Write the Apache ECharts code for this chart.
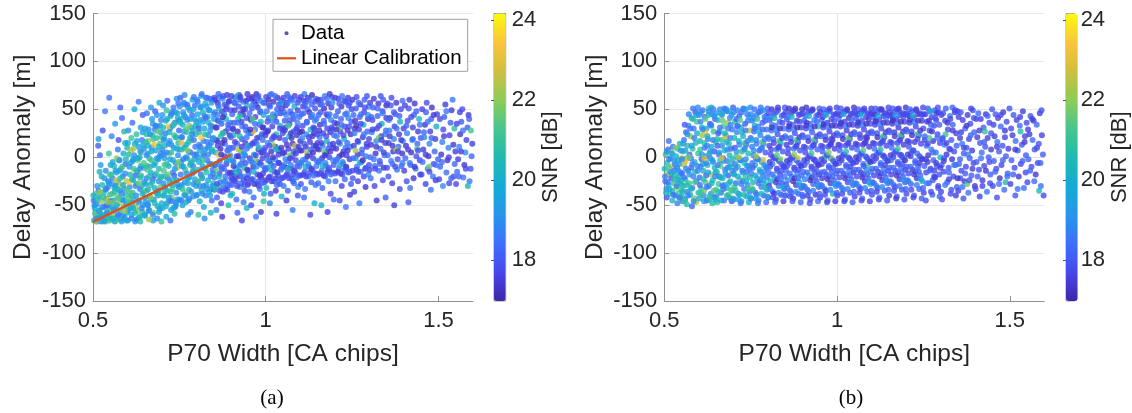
<!DOCTYPE html>
<html>
<head>
<meta charset="utf-8">
<script src="https://cdn.jsdelivr.net/npm/echarts@6/dist/echarts.min.js"></script>
<style>
  html, body { margin: 0; padding: 0; background: #ffffff; }
  #chart { width: 1132px; height: 413px; }
</style>
</head>
<body>
<div id="chart"></div>
<script>
// Axis ranges and tick labels
const xRange = [0.5, 1.6];
const yRange = [-150, 150];
const xTickValues = [0.5, 1, 1.5];
const snrRange = [16.97, 24.16];
const snrTickValues = [18, 20, 22, 24];

// Linear calibration line (panel a)
const calibX = [0.5, 0.9];
const calibY = [-67.5, 2.5];

// Panel (a): [P70 width, delay anomaly, SNR]
const pointsA = [
[.503,-66,19.6],[.507,-58,20.4],[.511,-49,18.9],[.514,-63,21.2],[.518,-41,19.8],[.521,-55,20.9],[.523,-67,18.6],[.526,-46,22.1],[.529,-60,19.3],[.531,-37,20.2],[.534,-52,18.4],[.536,-65,20.7],[.538,-43,19.1],[.541,-57,21.6],[.543,-31,18.8],[.545,-48,20.0],[.547,-62,19.5],[.549,-39,21.0],[.505,-53,19.9],[.512,-67,20.3],[.516,-35,18.2],[.527,-29,20.6],[.533,-22,19.0],[.539,-67,22.4],[.544,-25,18.7],[.548,-54,20.8],[.502,-45,18.5],[.509,-38,21.4],[.520,-61,19.7],[.540,-50,18.3],[.515,12,18.1],[.522,-8,19.4],[.528,28,17.9],[.535,48,18.6],[.546,4,21.1],[.519,-15,20.1],[.537,-14,18.9],[.532,-67,19.2],[.542,-44,23.0],[.508,-67,21.8],[.547,62,18.4],[.516,19,19.6],[.520,2,18.3],
[.551,-64,20.5],[.553,-51,19.2],[.555,-38,21.3],[.556,-22,18.7],[.558,-59,22.0],[.560,-45,19.6],[.561,-9,20.4],[.563,-67,19.0],[.565,-30,18.4],[.566,-54,20.9],[.568,-16,19.8],[.570,-41,21.7],[.571,-62,18.8],[.573,-26,20.2],[.575,-3,19.3],[.576,-48,22.6],[.578,-35,18.9],[.580,-57,20.6],[.581,-12,21.1],[.583,-67,19.4],[.585,-44,20.0],[.586,-20,18.6],[.588,4,19.9],[.589,-52,21.5],[.591,-33,19.1],[.592,-63,20.3],[.594,-7,18.3],[.595,-39,20.8],[.597,-25,22.2],[.598,-58,19.7],[.599,10,20.5],[.552,-46,18.1],[.557,-5,19.5],[.562,-32,20.0],[.567,-66,21.0],[.572,8,18.5],[.577,-14,19.2],[.582,-29,23.2],[.587,-61,18.7],[.593,15,19.8],[.596,-49,20.1],[.554,22,18.9],[.564,35,19.3],[.574,18,17.9],[.584,41,18.4],[.590,27,20.7],[.579,52,18.2],[.569,-1,21.9],
[.601,-66,20.2],[.603,-55,19.1],[.604,-43,21.4],[.606,-31,18.8],[.607,-18,20.6],[.609,-6,19.4],[.610,7,22.3],[.612,-60,19.9],[.613,-48,18.5],[.615,-37,20.9],[.616,-24,19.6],[.618,-12,21.2],[.619,2,18.9],[.621,14,20.1],[.622,-67,19.3],[.624,-52,22.0],[.625,-40,19.0],[.627,-28,20.5],[.628,-15,18.6],[.630,-3,21.6],[.631,11,19.7],[.633,-63,20.8],[.634,-45,19.2],[.636,-33,18.4],[.637,-21,20.3],[.639,-9,19.8],[.640,5,21.9],[.642,18,18.7],[.643,-57,20.4],[.645,-50,19.5],[.646,-36,21.1],[.648,-26,18.9],[.649,-11,20.0],[.605,-26,23.4],[.611,-40,20.7],[.617,-2,19.2],[.623,-19,18.3],[.629,-56,21.8],[.635,0,19.6],[.641,-30,20.2],[.647,9,18.8],[.602,28,19.0],[.614,36,18.4],[.626,24,20.9],[.638,31,19.5],[.644,44,18.1],[.620,50,19.9],[.632,58,18.6],[.608,-49,22.7],[.650,-42,19.3],[.626,-65,18.7],[.637,-67,20.5],[.611,20,21.0],[.644,26,19.1],[.616,-53,19.9],
[.651,-60,20.3],[.652,-47,19.2],[.654,-35,21.5],[.655,-22,18.8],[.657,-9,20.6],[.658,4,19.4],[.660,17,22.1],[.661,29,19.0],[.663,-55,20.0],[.664,-41,18.6],[.666,-29,21.0],[.667,-16,19.7],[.669,-3,20.9],[.670,10,18.9],[.672,23,20.4],[.673,35,19.3],[.675,-58,21.9],[.676,-44,19.1],[.678,-32,20.2],[.679,-19,18.5],[.681,-6,21.3],[.682,7,19.6],[.684,20,20.8],[.685,32,18.7],[.687,-51,19.9],[.688,-38,22.4],[.690,-25,19.0],[.691,-12,20.5],[.693,1,18.4],[.694,14,21.2],[.696,26,19.5],[.697,39,18.8],[.699,-48,20.1],[.653,-28,19.8],[.659,-50,18.3],[.665,-10,20.7],[.671,40,19.2],[.677,13,23.1],[.683,-37,20.0],[.689,-2,19.3],[.695,-31,21.6],[.656,46,18.5],[.668,52,19.4],[.680,48,18.2],[.692,57,20.0],[.674,-66,19.6],[.686,-64,18.9],[.698,-67,21.0],[.662,-65,22.2],[.700,8,18.6],[.655,24,20.6],[.667,-44,19.4],[.679,29,18.7],[.691,-57,19.8],[.663,-1,21.1],[.685,44,19.0],[.697,-20,20.3],[.673,-23,18.3],[.659,12,19.9],[.694,33,19.2],
[.701,-53,19.5],[.702,-40,20.8],[.704,-27,18.9],[.705,-14,21.4],[.707,-1,19.2],[.708,12,20.3],[.710,25,18.6],[.711,38,19.9],[.713,49,21.0],[.714,-48,19.0],[.716,-35,20.5],[.717,-22,18.4],[.719,-9,20.0],[.720,4,22.0],[.722,17,19.4],[.723,30,18.8],[.725,43,20.7],[.726,-55,19.3],[.728,-42,21.7],[.729,-29,19.6],[.731,-16,18.7],[.732,-3,20.2],[.734,10,19.1],[.735,23,21.2],[.737,36,18.5],[.738,47,19.8],[.740,-50,20.4],[.741,-37,18.9],[.743,-24,19.7],[.744,-11,22.5],[.746,2,19.0],[.747,15,20.6],[.749,28,18.3],[.703,54,19.1],[.709,-20,20.1],[.715,59,18.4],[.721,-45,19.7],[.727,5,20.9],[.733,52,18.6],[.739,-6,19.4],[.745,41,20.3],[.748,-31,18.8],[.712,-62,19.9],[.724,-66,18.5],[.736,-59,20.7],[.742,61,19.2],[.718,32,23.3],[.730,-33,21.1],[.706,20,19.6],[.750,8,18.7],[.713,-7,20.4],[.726,45,19.0],[.735,-19,18.2],[.744,-44,19.9],[.707,-35,20.6],[.719,14,18.9],[.731,33,19.5],[.741,21,21.4],[.704,3,19.3],[.747,56,18.5],[.722,-26,20.2],[.738,-52,18.8],
[.751,-44,19.4],[.752,-31,20.7],[.754,-18,18.6],[.755,-5,19.9],[.757,8,21.0],[.758,21,18.8],[.760,34,20.2],[.761,47,19.1],[.763,57,18.5],[.764,-39,20.4],[.766,-26,19.2],[.767,-13,21.3],[.769,0,18.7],[.770,13,19.6],[.772,26,20.9],[.773,39,18.9],[.775,52,19.7],[.776,-45,18.4],[.778,-34,20.1],[.779,-21,19.3],[.781,-8,20.6],[.782,5,18.5],[.784,18,22.2],[.785,31,19.0],[.787,44,18.3],[.788,60,19.8],[.790,-41,19.5],[.791,-28,18.8],[.793,-15,20.3],[.794,-2,19.1],[.796,11,18.6],[.797,24,20.8],[.799,37,19.4],[.753,62,18.2],[.759,-50,19.6],[.765,65,18.9],[.771,-37,21.5],[.777,6,19.0],[.783,-57,18.7],[.789,28,20.5],[.795,54,18.4],[.756,15,23.0],[.762,-10,20.0],[.768,42,18.6],[.774,-22,19.8],[.780,49,19.2],[.786,-4,21.1],[.792,63,18.5],[.798,-30,19.9],[.757,-29,18.9],[.763,27,19.3],[.769,-47,20.2],[.775,-60,18.8],[.781,20,20.0],[.787,-17,18.5],[.793,40,19.6],[.799,3,18.2],[.766,55,19.1],[.778,33,21.8],[.790,-9,18.7],[.754,40,20.3],[.772,-1,19.4],
[.801,-39,19.1],[.802,-26,18.4],[.804,-13,20.2],[.805,0,19.3],[.807,13,18.7],[.808,26,20.6],[.810,39,19.0],[.811,52,18.5],[.813,64,19.8],[.814,-35,20.4],[.816,-22,18.9],[.817,-9,19.5],[.819,4,21.2],[.820,17,18.6],[.822,30,19.7],[.823,43,18.3],[.825,56,20.0],[.826,-40,18.8],[.828,-29,19.6],[.829,-16,20.8],[.831,-3,18.5],[.832,10,19.2],[.834,23,18.9],[.835,36,20.3],[.837,49,19.4],[.838,61,18.2],[.840,-33,19.9],[.841,-20,18.6],[.843,-7,20.5],[.844,6,19.1],[.846,19,18.4],[.847,32,21.6],[.849,45,19.3],[.803,58,18.7],[.809,-46,20.1],[.815,66,18.4],[.821,-52,19.5],[.827,-11,22.3],[.833,3,18.8],[.839,28,19.0],[.845,60,18.6],[.848,-27,20.7],[.806,33,19.6],[.812,-18,18.3],[.818,47,20.2],[.824,8,19.0],[.830,62,18.5],[.836,-36,19.8],[.842,15,18.7],[.850,40,19.4],[.805,-60,21.0],[.823,-64,18.9],[.841,-58,20.4],[.813,21,23.5],[.829,53,19.2],[.846,-13,18.5],[.809,7,19.9],[.820,-30,18.7],[.832,42,19.3],[.844,-45,18.4],[.818,-3,20.9],[.836,12,18.8],
[.851,-34,17.9],[.852,-21,18.6],[.854,-8,17.3],[.855,5,20.1],[.857,18,18.0],[.858,31,17.6],[.860,44,18.8],[.861,57,17.4],[.863,66,18.3],[.864,-30,20.5],[.866,-17,17.7],[.867,-4,18.4],[.869,9,17.2],[.870,22,20.7],[.872,35,18.1],[.873,48,17.5],[.875,61,18.9],[.876,-36,17.8],[.878,-25,21.0],[.879,-12,18.2],[.881,1,17.6],[.882,14,18.7],[.884,27,17.3],[.885,40,20.2],[.887,53,18.0],[.888,65,17.5],[.890,-29,18.5],[.891,-16,17.8],[.893,-3,20.4],[.894,10,18.3],[.896,23,17.4],[.897,36,18.8],[.899,49,17.7],[.853,60,17.2],[.859,-42,18.1],[.865,51,20.3],[.871,-48,17.6],[.877,25,22.0],[.883,-20,18.4],[.889,7,17.9],[.895,59,18.6],[.898,-40,20.0],[.856,-14,21.5],[.862,38,17.5],[.868,-26,18.7],[.874,15,17.3],[.880,45,18.9],[.886,-7,17.6],[.892,30,18.2],[.900,-22,17.8],[.857,-55,18.8],[.874,-62,17.4],[.892,-50,20.6],[.864,3,23.2],[.881,55,17.9],[.866,63,18.5],[.884,-33,17.7],[.897,2,20.0],[.871,-10,18.0],[.859,17,17.5],
[.901,-29,18.0],[.902,-16,17.5],[.904,-3,18.8],[.905,10,17.7],[.907,23,20.3],[.908,36,18.1],[.910,49,17.4],[.911,62,18.5],[.913,-25,17.9],[.914,-12,20.1],[.916,1,17.6],[.917,14,18.3],[.919,27,17.2],[.920,40,20.6],[.922,53,18.0],[.923,65,17.7],[.925,-31,18.7],[.926,-20,17.4],[.928,-7,18.1],[.929,6,21.0],[.931,19,17.8],[.932,32,18.6],[.934,45,17.3],[.935,58,18.9],[.937,-24,17.6],[.938,-11,20.4],[.940,2,18.2],[.941,15,17.5],[.943,28,18.8],[.944,41,17.9],[.946,54,20.0],[.947,66,17.4],[.949,-18,18.3],[.903,-38,20.2],[.909,57,17.8],[.915,-44,18.4],[.921,8,22.4],[.927,46,17.6],[.933,-2,18.7],[.939,-35,17.7],[.945,21,18.5],[.948,-29,17.8],[.906,29,18.3],[.912,-20,17.4],[.918,64,20.1],[.924,-15,18.0],[.930,37,17.5],[.936,-47,18.6],[.942,-6,17.9],[.950,12,20.8],[.918,-58,18.2],[.931,-66,17.6],[.945,-53,20.3],[.907,-9,17.3],[.926,60,18.0],[.940,50,17.7],
[.951,-27,17.7],[.952,-14,18.4],[.954,-1,17.5],[.955,12,18.9],[.957,25,17.8],[.958,38,20.2],[.960,51,18.1],[.961,63,17.4],[.963,-23,18.6],[.964,-10,17.3],[.966,3,20.0],[.967,16,17.9],[.969,29,18.5],[.970,42,17.6],[.972,55,18.3],[.973,66,17.2],[.975,-28,20.4],[.976,-18,17.7],[.978,-5,18.0],[.979,8,17.5],[.981,21,20.7],[.982,34,18.2],[.984,47,17.8],[.985,59,18.7],[.987,-21,17.4],[.988,-8,18.8],[.990,5,17.6],[.991,18,18.4],[.993,31,17.9],[.994,44,20.1],[.996,57,17.5],[.997,-26,18.2],[.999,-13,17.7],[.953,-36,18.9],[.959,61,17.6],[.965,-42,18.3],[.971,-3,21.8],[.977,52,17.4],[.983,-33,18.6],[.989,24,17.8],[.995,-38,20.0],[.998,10,18.1],[.956,40,17.5],[.962,-6,18.7],[.968,58,17.3],[.974,14,18.4],[.980,-30,17.9],[.986,37,20.3],[.992,-17,17.6],[1.0,26,18.0],[.958,-50,17.8],[.972,-62,18.5],[.986,-57,17.4],[.994,-46,21.0],[.963,27,22.9],[.979,64,18.2],[.991,-1,17.6],
[1.001,-24,17.6],[1.003,-11,18.3],[1.004,2,17.4],[1.006,15,18.8],[1.007,28,17.7],[1.009,41,18.2],[1.010,54,17.5],[1.012,65,18.6],[1.013,-20,17.9],[1.015,-7,20.1],[1.016,6,17.3],[1.018,19,18.0],[1.019,32,17.6],[1.021,45,18.7],[1.022,58,17.4],[1.024,-25,18.4],[1.025,-15,17.8],[1.027,-2,18.9],[1.028,11,17.5],[1.030,24,20.3],[1.031,37,17.9],[1.033,50,18.1],[1.034,62,17.3],[1.036,-19,18.5],[1.037,-6,17.7],[1.039,7,18.2],[1.040,20,17.4],[1.042,33,20.0],[1.043,46,17.6],[1.045,59,18.3],[1.046,-22,17.9],[1.048,-9,18.8],[1.049,4,17.5],[1.002,-32,20.5],[1.008,60,17.2],[1.014,-38,18.0],[1.020,13,22.1],[1.026,42,17.7],[1.032,-29,18.4],[1.038,55,17.8],[1.044,-13,18.6],[1.050,29,17.4],[1.005,37,18.1],[1.011,-4,17.6],[1.017,66,18.4],[1.023,22,17.9],[1.029,-35,17.3],[1.035,9,20.6],[1.041,-28,18.0],[1.047,51,17.5],[1.012,-48,18.8],[1.031,-59,17.6],[1.046,-41,20.2],
[1.051,-21,17.8],[1.053,-8,18.5],[1.054,5,17.4],[1.056,18,18.1],[1.057,31,17.6],[1.059,44,18.9],[1.060,57,17.3],[1.062,66,18.2],[1.063,-17,17.7],[1.065,-4,18.4],[1.066,9,17.5],[1.068,22,20.2],[1.069,35,17.9],[1.071,48,18.3],[1.072,61,17.4],[1.074,-22,18.7],[1.075,-12,17.6],[1.077,1,18.0],[1.078,14,17.3],[1.080,27,18.6],[1.081,40,17.8],[1.083,53,20.0],[1.084,64,17.5],[1.086,-16,18.1],[1.087,-3,17.7],[1.089,10,18.5],[1.090,23,17.4],[1.092,36,18.8],[1.093,49,17.6],[1.095,60,18.2],[1.096,-19,17.9],[1.098,-6,20.4],[1.099,7,17.5],[1.052,-30,18.6],[1.058,54,17.4],[1.064,-35,18.2],[1.070,2,21.7],[1.076,45,17.8],[1.082,-27,18.4],[1.088,29,17.7],[1.094,-31,18.9],[1.100,17,17.3],[1.055,38,18.0],[1.061,-11,17.6],[1.067,63,18.5],[1.073,25,17.4],[1.079,-25,18.1],[1.085,12,22.6],[1.091,-9,17.8],[1.097,42,18.3],[1.060,-45,17.5],[1.078,-55,18.7],[1.093,-40,17.9],
[1.101,-19,17.6],[1.103,-6,18.3],[1.104,7,17.4],[1.106,20,18.8],[1.107,33,17.7],[1.109,46,18.1],[1.110,59,17.5],[1.112,66,18.6],[1.113,-15,17.9],[1.115,-2,18.4],[1.116,11,17.3],[1.118,24,18.9],[1.119,37,17.6],[1.121,50,18.2],[1.122,62,17.4],[1.124,-20,18.7],[1.125,-10,17.8],[1.127,3,18.0],[1.128,16,17.5],[1.130,29,20.3],[1.131,42,17.7],[1.133,55,18.3],[1.134,65,17.2],[1.136,-14,18.5],[1.137,-1,17.6],[1.139,12,18.1],[1.140,25,17.4],[1.142,38,18.8],[1.143,51,17.9],[1.145,61,18.4],[1.146,-17,17.5],[1.148,-4,18.7],[1.149,9,17.3],[1.102,-28,18.0],[1.108,53,17.6],[1.114,-33,18.5],[1.120,5,22.0],[1.126,47,17.4],[1.132,-26,18.2],[1.138,31,17.8],[1.144,-29,18.6],[1.150,15,17.5],[1.111,-42,18.3],[1.129,-60,17.7],[1.141,-48,20.1],[1.117,58,18.0],[1.135,22,17.4],[1.147,40,18.6],
[1.151,-18,17.7],[1.153,-5,18.2],[1.154,8,17.5],[1.156,21,18.6],[1.157,34,17.3],[1.159,47,18.0],[1.160,60,17.8],[1.162,-14,18.5],[1.163,-1,17.4],[1.165,12,18.9],[1.166,25,17.6],[1.168,38,18.3],[1.169,51,17.2],[1.171,64,18.7],[1.172,-20,17.9],[1.174,-9,18.4],[1.175,4,17.5],[1.177,17,20.1],[1.178,30,17.7],[1.180,43,18.1],[1.181,56,17.4],[1.183,-13,18.6],[1.184,0,17.8],[1.186,13,18.2],[1.187,26,17.3],[1.189,39,18.8],[1.190,52,17.6],[1.192,63,18.0],[1.193,-16,17.5],[1.195,-3,18.7],[1.196,10,17.4],[1.198,23,18.3],[1.199,36,17.9],[1.152,-27,18.4],[1.158,55,17.6],[1.164,-32,18.1],[1.170,6,21.5],[1.176,45,17.5],[1.182,-25,18.8],[1.188,-38,17.7],[1.194,29,18.2],[1.161,-50,20.0],[1.179,-57,17.6],[1.197,-44,18.3],[1.185,66,17.4],
[1.201,-17,17.8],[1.203,-4,18.3],[1.204,9,17.5],[1.206,22,18.7],[1.207,35,17.4],[1.209,48,18.1],[1.210,61,17.7],[1.212,-12,18.5],[1.213,1,17.3],[1.215,14,18.9],[1.216,27,17.6],[1.218,40,18.2],[1.219,53,17.4],[1.221,64,18.6],[1.222,-18,17.9],[1.224,-7,18.4],[1.225,6,17.5],[1.227,19,20.0],[1.228,32,17.7],[1.230,45,18.1],[1.231,58,17.3],[1.233,-11,18.7],[1.234,2,17.6],[1.236,15,18.3],[1.237,28,17.4],[1.239,41,18.8],[1.240,54,17.9],[1.242,-15,18.0],[1.243,-2,17.5],[1.245,11,18.6],[1.246,24,17.3],[1.248,37,18.2],[1.249,50,17.7],[1.202,-25,18.4],[1.211,30,21.9],[1.220,-30,17.6],[1.229,-23,18.3],[1.238,62,17.5],[1.247,-28,18.0],[1.214,-45,17.8],[1.232,-52,18.5],[1.244,-39,17.4],
[1.251,-14,17.7],[1.253,-1,18.4],[1.255,12,17.5],[1.257,25,18.8],[1.259,38,17.3],[1.261,51,18.1],[1.263,63,17.8],[1.264,-10,18.5],[1.266,3,17.4],[1.268,16,18.9],[1.270,29,17.6],[1.272,42,18.2],[1.274,55,17.4],[1.275,-15,18.6],[1.277,-5,17.9],[1.279,8,18.3],[1.281,21,17.5],[1.283,34,20.0],[1.285,47,17.7],[1.286,60,18.1],[1.288,-12,17.3],[1.290,1,18.7],[1.292,14,17.6],[1.294,27,18.3],[1.296,40,17.4],[1.298,53,18.8],[1.299,-8,17.9],[1.252,-22,18.0],[1.260,7,22.3],[1.267,-25,17.6],[1.276,45,18.4],[1.284,-20,17.7],[1.293,64,18.0],[1.256,-36,17.5],[1.271,-48,18.6],[1.289,-31,17.4],[1.297,-18,18.9],[1.262,33,17.3],
[1.301,-13,17.6],[1.303,0,18.3],[1.305,13,17.4],[1.307,26,18.7],[1.309,39,17.8],[1.311,52,18.1],[1.313,61,17.5],[1.316,-9,18.4],[1.318,4,17.3],[1.320,17,18.8],[1.322,30,17.6],[1.324,43,18.2],[1.326,56,17.4],[1.328,-14,18.6],[1.330,-4,17.9],[1.332,9,18.3],[1.334,22,17.5],[1.336,35,20.2],[1.338,48,17.7],[1.340,60,18.0],[1.342,-11,17.3],[1.344,2,18.7],[1.346,15,17.6],[1.348,28,18.3],[1.349,41,17.4],[1.304,-22,18.5],[1.315,-30,17.7],[1.327,20,21.6],[1.339,-24,17.8],[1.347,-42,18.2],[1.321,-45,17.5],[1.333,64,18.0],
[1.351,-11,17.7],[1.353,2,18.4],[1.356,15,17.5],[1.358,28,18.7],[1.360,41,17.3],[1.362,54,18.1],[1.364,62,17.8],[1.367,-7,18.5],[1.369,6,17.4],[1.371,19,18.9],[1.373,32,17.6],[1.375,45,18.2],[1.378,57,17.4],[1.380,-13,18.6],[1.382,-2,17.9],[1.384,11,18.3],[1.386,24,17.5],[1.389,37,20.0],[1.391,50,17.7],[1.393,-9,18.1],[1.395,4,17.3],[1.397,17,18.7],[1.399,30,17.6],[1.355,-20,18.0],[1.366,-27,17.6],[1.377,8,22.1],[1.388,-33,17.8],[1.396,59,18.4],[1.372,-50,17.5],
[1.401,-14,17.6],[1.404,-1,18.3],[1.406,12,17.4],[1.409,25,18.7],[1.411,38,17.8],[1.414,51,18.1],[1.416,60,17.5],[1.419,-8,18.4],[1.421,5,17.3],[1.424,18,18.8],[1.426,31,17.6],[1.429,44,18.2],[1.431,56,17.4],[1.434,-12,18.6],[1.436,1,17.9],[1.439,14,18.3],[1.441,27,17.5],[1.444,40,20.3],[1.446,-3,17.7],[1.449,20,18.0],[1.408,-25,17.9],[1.418,-32,18.5],[1.428,-22,17.4],[1.438,9,21.4],[1.447,-18,17.8],[1.413,-47,18.1],
[1.451,-18,17.7],[1.454,-5,18.4],[1.456,8,17.5],[1.459,21,18.8],[1.461,34,17.3],[1.464,47,18.1],[1.466,57,17.8],[1.469,-12,18.5],[1.471,1,17.4],[1.474,14,18.9],[1.476,27,17.6],[1.479,40,18.2],[1.481,52,17.4],[1.484,-20,18.6],[1.486,-7,17.9],[1.489,6,18.3],[1.491,19,17.5],[1.494,32,20.0],[1.496,45,17.7],[1.499,-2,18.1],[1.463,-28,17.6],[1.478,-34,18.4],[1.492,-24,17.5],[1.473,-10,21.8],
[1.502,-23,17.6],[1.505,-10,18.3],[1.508,3,17.4],[1.511,16,18.7],[1.514,29,17.8],[1.517,42,18.1],[1.520,55,17.5],[1.523,-16,18.4],[1.526,-3,17.3],[1.529,10,18.8],[1.532,23,17.6],[1.535,36,18.2],[1.538,49,17.4],[1.541,60,18.6],[1.544,-20,17.9],[1.547,-7,18.3],[1.549,6,17.5],[1.513,-30,18.9],[1.531,-27,17.7],[1.546,30,20.8],
[1.551,-28,17.7],[1.554,-15,18.4],[1.557,-2,17.5],[1.560,11,18.8],[1.563,24,17.3],[1.566,37,18.1],[1.569,50,17.8],[1.572,-21,18.5],[1.575,-8,17.4],[1.578,5,18.9],[1.581,18,17.6],[1.584,31,18.2],[1.587,44,17.4],[1.590,-25,18.6],[1.593,-12,17.9],[1.596,1,18.3],[1.598,14,17.5],[1.585,-30,20.4],[1.594,28,21.2],[1.562,47,17.6],
[.501,-40,20.1],[.504,-50,19.3],[.506,-59,21.5],[.510,-64,18.9],[.513,-44,20.6],[.517,-56,19.5],[.520,-36,22.0],[.524,-62,20.2],[.527,-52,18.7],[.530,-42,21.1],[.533,-66,19.8],[.536,-34,20.5],[.540,-58,19.0],[.543,-47,21.9],[.546,-27,19.4],[.549,-66,20.8],[.512,-30,19.1],[.525,-20,20.3],[.538,-33,18.6],[.548,-18,21.3],
[.551,-8,19.7],[.553,-18,20.9],[.555,-28,19.1],[.557,-47,21.8],[.559,-64,20.0],[.561,-55,18.8],[.563,-36,20.6],[.565,-14,19.5],[.567,-24,22.5],[.569,-50,19.9],[.571,-33,20.3],[.573,-60,18.6],[.575,-43,21.2],[.577,-3,19.2],[.579,-22,20.7],[.581,-65,19.6],[.583,-38,18.9],[.585,-10,21.0],[.587,-29,20.1],[.589,-45,19.3],[.591,-56,22.1],[.593,-17,19.0],[.595,-2,20.4],[.597,-66,19.5],[.599,-34,21.4],
[.601,15,19.8],[.603,3,20.7],[.605,-10,19.2],[.607,-37,21.3],[.609,-53,20.1],[.611,-64,18.7],[.613,-23,20.5],[.615,-4,19.4],[.617,9,22.4],[.619,-44,19.9],[.621,-58,20.3],[.623,-30,18.9],[.625,-14,21.1],[.627,17,19.6],[.629,-1,20.0],[.631,-47,19.1],[.633,-27,21.7],[.635,-62,20.4],[.637,6,19.3],[.639,-19,20.8],[.641,-53,18.8],[.643,-38,20.2],[.645,13,19.7],[.647,-6,21.4],[.649,-61,19.5],[.606,-47,20.9],[.636,-12,19.0],
[.651,30,19.5],[.653,16,20.8],[.655,2,19.1],[.657,-13,21.4],[.659,-34,20.0],[.661,-56,18.9],[.663,-20,20.6],[.665,24,19.3],[.667,-42,22.0],[.669,6,19.8],[.671,-26,20.3],[.673,-60,19.0],[.675,19,21.1],[.677,-8,19.6],[.679,-48,20.5],[.681,33,18.8],[.683,-17,20.9],[.685,-1,19.4],[.687,27,21.6],[.689,-35,19.2],[.691,11,20.2],[.693,-54,19.7],[.695,-22,20.7],[.697,4,18.9],[.699,21,21.0],[.658,-49,19.4],[.688,-40,20.1],
[.701,44,19.2],[.703,31,20.5],[.705,18,19.0],[.707,-8,21.2],[.709,-31,19.6],[.711,-51,20.3],[.713,5,18.8],[.715,40,19.9],[.717,-18,21.5],[.719,-42,19.3],[.721,26,20.1],[.723,-2,19.5],[.725,-36,20.8],[.727,13,19.1],[.729,47,18.7],[.731,-24,20.4],[.733,-53,19.8],[.735,35,21.0],[.737,-12,19.2],[.739,21,20.6],[.741,-47,18.9],[.743,9,20.0],[.745,-29,19.4],[.747,-5,21.8],[.749,38,19.0],[.706,-40,20.2],[.728,-46,18.6],[.744,46,19.7],
[.751,53,19.0],[.753,36,20.3],[.755,21,18.8],[.757,-9,19.6],[.759,-33,20.9],[.761,-2,18.6],[.763,44,19.4],[.765,10,20.1],[.767,-40,19.2],[.769,29,21.3],[.771,-17,19.0],[.773,55,18.5],[.775,-27,19.8],[.777,16,20.5],[.779,-43,18.9],[.781,40,19.3],[.783,-6,20.2],[.785,-36,19.1],[.787,24,18.7],[.789,-14,20.6],[.791,50,19.5],[.793,3,18.8],[.795,-23,19.9],[.797,33,20.4],[.799,-40,19.0],[.756,-45,18.7],[.774,7,22.0],[.792,18,18.6],
[.801,60,18.8],[.803,45,19.6],[.805,30,18.4],[.807,-5,20.1],[.809,-30,19.0],[.811,11,18.6],[.813,53,19.3],[.815,-20,20.4],[.817,-38,18.9],[.819,37,19.5],[.821,2,18.7],[.823,-12,19.9],[.825,24,20.6],[.827,62,18.5],[.829,-33,19.2],[.831,16,18.8],[.833,-24,20.0],[.835,49,19.4],[.837,-7,18.6],[.839,-40,19.7],[.841,33,18.9],[.843,57,19.3],[.845,8,20.3],[.847,-17,18.7],[.849,20,19.6],[.804,-25,21.2],[.826,41,18.4],[.846,-30,19.1],
[.851,62,17.8],[.853,47,18.6],[.855,31,17.5],[.857,-7,19.2],[.859,-28,18.0],[.861,12,17.6],[.863,54,18.4],[.865,-20,20.2],[.867,-35,17.7],[.869,38,18.9],[.871,3,17.4],[.873,-12,18.3],[.875,25,20.0],[.877,64,17.9],[.879,-31,18.5],[.881,18,17.3],[.883,-25,18.8],[.885,50,17.6],[.887,-3,19.5],[.889,-34,17.8],[.891,34,18.2],[.893,58,17.4],[.895,8,18.7],[.897,-17,17.5],[.899,21,18.1],[.854,-33,20.6],[.876,42,17.2],[.896,-28,18.4],
[.901,64,17.6],[.903,45,18.3],[.905,30,17.4],[.907,-5,18.9],[.909,-24,17.8],[.911,16,17.5],[.913,56,18.6],[.915,-16,20.1],[.917,-30,17.7],[.919,36,18.4],[.921,1,17.3],[.923,-9,18.8],[.925,22,20.4],[.927,63,17.6],[.929,-27,18.2],[.931,11,17.5],[.933,-20,18.7],[.935,50,17.4],[.937,4,19.3],[.939,-29,17.9],[.941,32,18.1],[.943,59,17.6],[.945,9,18.5],[.947,-13,17.3],[.949,26,18.8],[.904,-23,17.7],[.926,43,20.8],[.946,-22,17.5],
[.951,61,17.5],[.953,46,18.4],[.955,29,17.3],[.957,-4,18.7],[.959,-23,17.9],[.961,14,17.6],[.963,55,18.5],[.965,-15,20.0],[.967,-28,17.4],[.969,35,18.3],[.971,2,17.7],[.973,-10,18.9],[.975,20,17.5],[.977,62,18.1],[.979,-25,17.8],[.981,10,20.5],[.983,-19,17.4],[.985,48,18.6],[.987,5,17.6],[.989,-27,18.2],[.991,31,17.3],[.993,57,18.8],[.995,7,17.7],[.997,-12,18.4],[.999,23,17.5],[.962,40,21.4],[.984,-6,17.9],
[1.001,63,17.7],[1.003,48,18.5],[1.005,27,17.4],[1.007,-3,18.8],[1.009,-21,17.6],[1.011,12,17.9],[1.013,53,18.3],[1.015,-13,20.2],[1.017,-25,17.5],[1.019,38,18.6],[1.021,0,17.3],[1.023,-9,18.1],[1.025,21,17.8],[1.027,64,18.4],[1.029,-22,17.6],[1.031,8,20.0],[1.033,-16,17.4],[1.035,46,18.7],[1.037,3,17.5],[1.039,-24,18.2],[1.041,30,17.7],[1.043,56,18.9],[1.045,10,17.3],[1.047,-11,18.5],[1.049,25,17.8],[1.018,42,21.0],[1.038,-6,17.6],
[1.051,62,17.6],[1.053,47,18.3],[1.055,28,17.5],[1.057,-2,18.9],[1.059,-19,17.7],[1.061,13,17.4],[1.063,56,18.6],[1.065,-12,20.3],[1.067,-22,17.8],[1.069,39,18.2],[1.071,-1,17.5],[1.073,-8,18.7],[1.075,20,17.3],[1.077,59,18.4],[1.079,-18,17.9],[1.081,6,18.1],[1.083,-14,17.6],[1.085,44,18.8],[1.087,4,17.4],[1.089,-21,18.5],[1.091,31,17.7],[1.093,57,18.0],[1.095,11,17.5],[1.097,-10,18.6],[1.099,26,17.3],[1.066,33,21.2],
[1.101,63,17.5],[1.103,45,18.4],[1.105,27,17.3],[1.107,-3,18.8],[1.109,-18,17.6],[1.111,14,17.9],[1.113,54,18.2],[1.115,-10,20.0],[1.117,-20,17.7],[1.119,36,18.5],[1.121,1,17.4],[1.123,-7,18.9],[1.125,21,17.6],[1.127,60,18.3],[1.129,-16,17.8],[1.131,8,18.1],[1.133,-12,17.5],[1.135,44,18.7],[1.137,5,17.3],[1.139,-19,18.4],[1.141,30,17.7],[1.143,58,18.0],[1.145,12,17.4],[1.147,-9,18.6],[1.149,24,17.8],
[1.151,60,17.6],[1.153,44,18.3],[1.155,28,17.4],[1.157,-4,18.7],[1.159,-17,17.8],[1.161,15,17.5],[1.163,55,18.5],[1.165,-9,20.1],[1.167,-19,17.6],[1.169,35,18.2],[1.171,2,17.3],[1.173,-6,18.8],[1.175,22,17.7],[1.177,61,18.4],[1.179,-15,17.5],[1.181,9,18.0],[1.183,-11,17.9],[1.185,45,18.6],[1.187,6,17.4],[1.189,-18,18.3],[1.191,31,17.6],[1.193,57,18.9],[1.195,14,17.5],[1.197,-8,18.1],
[1.201,62,17.7],[1.203,43,18.4],[1.205,29,17.5],[1.207,-2,18.6],[1.209,-15,17.4],[1.211,16,17.8],[1.213,56,18.2],[1.215,-8,20.0],[1.217,-17,17.6],[1.219,34,18.5],[1.221,3,17.3],[1.223,-5,18.7],[1.225,23,17.6],[1.227,59,18.1],[1.229,-13,17.9],[1.231,10,18.4],[1.233,-10,17.5],[1.235,46,18.8],[1.237,7,17.4],[1.239,-16,18.2],[1.241,32,17.7],[1.243,57,18.0],
[1.251,60,17.5],[1.254,44,18.3],[1.257,30,17.4],[1.260,-1,18.7],[1.263,-13,17.7],[1.266,17,17.5],[1.269,57,18.4],[1.272,-6,20.2],[1.275,35,17.6],[1.278,4,18.1],[1.281,-3,17.3],[1.284,24,18.6],[1.287,52,17.8],[1.290,-11,18.2],[1.293,11,17.5],[1.296,44,18.9],[1.299,19,17.6],[1.268,-15,17.9],
[1.302,57,17.6],[1.306,42,18.2],[1.309,29,17.5],[1.313,-2,18.6],[1.317,-12,17.7],[1.320,11,17.4],[1.324,51,18.3],[1.328,33,17.8],[1.331,-7,18.1],[1.335,18,17.5],[1.339,46,18.7],[1.342,5,17.6],[1.346,24,18.4],[1.349,54,17.3],
[1.352,56,17.7],[1.356,39,18.3],[1.359,22,17.5],[1.363,-4,18.6],[1.367,12,17.4],[1.371,47,18.1],[1.375,-10,17.8],[1.379,30,18.4],[1.383,6,17.6],[1.387,43,18.2],[1.392,18,17.5],[1.396,-6,18.7],
[1.403,54,17.6],[1.407,33,18.2],[1.412,8,17.5],[1.417,-6,18.6],[1.421,42,17.7],[1.426,19,18.3],[1.431,-10,17.4],[1.436,48,18.1],[1.441,7,17.8],[1.446,34,18.4],
[1.453,50,17.6],[1.458,26,18.3],[1.463,3,17.5],[1.469,37,18.6],[1.474,-15,17.7],[1.480,20,18.2],[1.486,44,17.4],[1.493,-8,18.5],
[1.504,40,17.7],[1.510,-5,18.3],[1.516,22,17.5],[1.523,48,18.6],[1.530,0,17.6],[1.537,-22,18.2],[1.543,13,17.4],
[1.553,35,17.6],[1.559,-20,18.2],[1.565,6,17.5],[1.571,28,18.4],[1.579,-12,17.7],[1.589,40,18.1]
];

// Panel (b): [P70 width, delay anomaly, SNR]
const pointsB = [
[.501,-12,20.3],[.503,-25,18.4],[.504,3,21.1],[.506,-33,18.8],[.508,-6,20.7],[.509,-18,22.4],[.511,8,18.2],[.512,-29,20.0],[.514,-2,18.8],[.516,-38,20.9],[.517,-15,18.6],[.519,5,21.7],[.520,-22,18.0],[.522,-9,23.1],[.524,-35,20.4],[.525,11,18.5],[.527,-27,21.3],[.529,-4,18.9],[.530,-19,20.6],[.532,-40,18.3],[.534,1,20.1],[.535,-31,22.0],[.537,-11,18.7],[.539,9,20.8],[.540,-24,18.7],[.542,-37,21.2],[.544,-7,18.9],[.545,14,20.5],[.547,-16,18.1],[.549,-28,20.2],[.550,-1,22.8],[.507,-42,18.0],[.523,-45,20.3],[.538,-48,18.8],[.546,-43,21.5],[.513,17,18.4],[.528,-14,18.5],[.543,-20,20.0],
[.551,-41,20.1],[.552,-17,18.3],[.554,6,21.0],[.555,-30,20.6],[.557,18,18.5],[.558,-8,22.3],[.560,-44,18.8],[.561,-23,20.4],[.563,26,18.1],[.564,-1,21.4],[.566,-36,18.6],[.567,12,20.8],[.569,-14,18.9],[.570,33,18.9],[.572,-27,21.1],[.573,3,18.4],[.575,-39,20.3],[.576,22,22.1],[.578,-11,18.2],[.579,41,20.0],[.581,-32,18.7],[.582,9,20.9],[.584,-20,18.8],[.585,30,18.5],[.587,-43,21.6],[.588,-5,20.2],[.590,47,18.0],[.591,15,20.6],[.593,-25,18.4],[.594,37,21.3],[.596,-9,18.8],[.597,52,18.9],[.599,-37,20.5],[.553,-46,18.9],[.565,-49,20.7],[.580,-51,18.3],[.592,-47,22.5],[.559,34,18.0],[.571,45,18.7],[.583,51,18.6],[.595,25,20.1],[.562,-4,23.0],[.577,-1,18.5],[.589,-15,20.3],[.598,4,21.0],
[.601,-43,20.2],[.602,-21,18.4],[.604,8,21.1],[.605,37,18.8],[.607,-33,20.6],[.608,-2,18.1],[.610,23,22.0],[.611,49,18.5],[.613,-14,20.3],[.614,-40,18.9],[.616,15,20.8],[.617,42,18.3],[.619,-26,21.4],[.620,1,18.7],[.622,30,20.1],[.623,-45,18.0],[.625,-8,20.5],[.626,19,18.8],[.628,51,21.2],[.629,-30,18.6],[.631,4,20.4],[.632,35,18.2],[.634,-18,22.6],[.635,-38,18.9],[.637,11,20.0],[.638,45,18.4],[.640,-24,20.7],[.641,-5,18.7],[.643,27,21.0],[.644,-42,18.5],[.646,-11,20.2],[.647,40,18.1],[.649,16,20.9],[.603,-29,18.3],[.609,31,20.0],[.615,-35,21.7],[.621,-19,18.2],[.627,44,20.3],[.633,-1,18.8],[.639,-48,20.6],[.645,6,18.0],[.650,-34,21.3],[.606,47,18.9],[.612,-7,20.1],[.618,26,23.3],[.624,12,18.7],[.630,-44,20.4],[.636,33,18.8],[.642,50,18.6],[.648,-16,20.0],
[.651,-41,18.9],[.652,-15,20.6],[.654,12,18.2],[.655,39,20.4],[.657,-28,21.1],[.658,3,18.5],[.660,27,20.0],[.661,50,18.9],[.663,-9,21.6],[.664,-37,18.3],[.666,18,20.7],[.667,44,18.8],[.669,-22,20.2],[.670,-1,18.0],[.672,32,21.3],[.673,-45,18.6],[.675,7,20.1],[.676,-13,18.8],[.678,23,20.9],[.679,48,18.4],[.681,-32,20.3],[.682,-4,18.7],[.684,36,22.2],[.685,-19,18.1],[.687,14,20.5],[.688,-42,18.8],[.690,41,18.9],[.691,-25,20.6],[.693,9,18.3],[.694,-7,21.0],[.696,29,18.6],[.697,-35,20.0],[.699,52,18.2],[.653,-47,20.8],[.659,-20,18.4],[.665,46,20.2],[.671,-33,18.7],[.677,21,23.0],[.683,-11,18.9],[.689,2,20.4],[.695,-46,18.1],[.700,-17,20.7],[.656,25,18.0],[.662,-3,20.3],[.668,-30,18.5],[.674,51,18.6],[.680,16,20.1],[.686,-39,21.4],[.692,34,18.7],[.698,-2,20.2],
[.701,-44,18.5],[.702,-18,20.2],[.704,10,18.0],[.705,37,20.6],[.707,-27,18.3],[.708,1,21.2],[.710,26,18.8],[.711,49,18.9],[.713,-10,20.4],[.714,-38,18.6],[.716,17,20.0],[.717,43,18.2],[.719,-23,21.5],[.720,-3,18.4],[.722,31,20.1],[.723,-46,18.8],[.725,6,20.7],[.726,-14,18.1],[.728,22,20.3],[.729,50,18.7],[.731,-33,18.6],[.732,-6,20.5],[.734,35,18.0],[.735,-20,21.0],[.737,13,18.3],[.738,-41,20.2],[.740,45,18.7],[.741,-29,18.9],[.743,4,20.6],[.744,-9,18.2],[.746,28,22.4],[.747,-36,18.5],[.749,52,18.9],[.703,-31,20.8],[.709,40,18.1],[.715,-1,20.4],[.721,-48,18.6],[.727,-25,18.8],[.733,15,20.9],[.739,-15,18.4],[.745,-47,20.0],[.750,20,18.2],[.706,-12,18.9],[.712,33,18.6],[.718,-39,20.3],[.724,47,18.4],[.730,8,21.1],[.736,-2,18.9],[.742,38,18.7],[.748,-21,20.5],
[.751,-43,18.2],[.752,-17,18.9],[.754,11,18.7],[.755,38,18.6],[.757,-26,20.3],[.758,2,18.9],[.760,27,18.4],[.761,50,18.5],[.763,-8,20.1],[.764,-37,18.0],[.766,18,18.7],[.767,44,18.8],[.769,-22,20.5],[.770,-2,18.3],[.772,32,18.6],[.773,-45,18.8],[.775,7,18.1],[.776,-13,20.6],[.778,23,18.9],[.779,48,18.5],[.781,-31,18.7],[.782,-5,20.0],[.784,36,18.2],[.785,-19,18.5],[.787,14,18.9],[.788,-40,18.1],[.790,42,18.6],[.791,-28,20.4],[.793,5,18.0],[.794,-10,18.7],[.796,29,18.6],[.797,-34,18.9],[.799,51,18.3],[.753,-32,22.1],[.759,41,18.8],[.765,-1,18.5],[.771,-48,18.6],[.777,-24,18.7],[.783,16,21.4],[.789,-15,18.9],[.795,-47,18.4],[.800,21,18.7],[.756,-11,18.0],[.762,33,20.2],[.768,-39,18.7],[.774,47,18.3],[.780,9,18.5],[.786,-3,22.9],[.792,38,18.1],[.798,-21,18.8],
[.801,-42,17.9],[.802,-16,18.5],[.804,12,17.6],[.805,39,18.2],[.807,-25,20.0],[.808,3,17.8],[.810,28,18.4],[.811,50,17.4],[.813,-7,18.7],[.814,-36,17.7],[.816,19,18.1],[.817,45,17.5],[.819,-21,20.3],[.820,-1,17.9],[.822,33,18.3],[.823,-44,17.6],[.825,8,18.8],[.826,-12,17.4],[.828,24,18.0],[.829,49,17.7],[.831,-30,18.6],[.832,-4,17.5],[.834,37,18.2],[.835,-18,17.8],[.837,15,20.1],[.838,-39,17.6],[.840,43,18.4],[.841,-27,17.9],[.843,6,18.0],[.844,-9,17.4],[.846,30,18.7],[.847,-33,17.8],[.849,52,18.1],[.803,-30,17.5],[.809,41,18.6],[.815,0,17.7],[.821,-47,18.3],[.827,-23,17.6],[.833,17,21.0],[.839,-14,18.0],[.845,-46,17.5],[.850,22,18.4],[.806,-10,17.8],[.812,34,18.9],[.818,-38,17.4],[.824,47,18.2],[.830,10,17.6],[.836,-2,21.7],[.842,36,17.9],[.848,-20,18.5],
[.851,-40,17.7],[.852,-14,18.3],[.854,13,17.5],[.855,40,18.0],[.857,-24,18.8],[.858,4,17.6],[.860,29,18.2],[.861,51,17.3],[.863,-6,18.5],[.864,-35,17.8],[.866,20,18.1],[.867,46,17.4],[.869,-20,18.9],[.870,0,17.7],[.872,34,18.3],[.873,-43,17.5],[.875,9,18.6],[.876,-11,17.3],[.878,25,17.9],[.879,48,18.4],[.881,-29,17.6],[.882,-3,18.0],[.884,38,17.4],[.885,-17,18.7],[.887,16,17.8],[.888,-38,18.2],[.890,44,17.5],[.891,-26,20.2],[.893,7,17.9],[.894,-8,18.4],[.896,31,17.6],[.897,-32,18.0],[.899,50,17.3],[.853,-29,17.9],[.859,42,18.5],[.865,-2,17.6],[.871,-46,18.1],[.877,-22,17.4],[.883,18,20.8],[.889,-13,17.7],[.895,-47,18.3],[.900,23,17.5],[.856,-9,18.0],[.862,35,17.7],[.868,-37,18.4],[.874,49,17.6],[.880,11,18.2],[.886,-1,22.5],[.892,37,17.8],[.898,-19,18.3],
[.901,-41,17.8],[.902,-15,18.4],[.904,11,17.5],[.905,38,18.1],[.907,-23,18.7],[.908,5,17.7],[.910,30,18.0],[.911,52,17.4],[.913,-5,18.6],[.914,-34,17.9],[.916,21,18.2],[.917,47,17.5],[.919,-19,20.0],[.920,1,17.6],[.922,35,18.4],[.923,-44,17.7],[.925,10,18.5],[.926,-10,17.4],[.928,26,18.1],[.929,49,17.8],[.931,-28,18.3],[.932,-2,17.5],[.934,39,18.8],[.935,-16,17.7],[.937,17,18.0],[.938,-39,17.4],[.940,43,18.5],[.941,-25,17.9],[.943,8,18.2],[.944,-7,17.6],[.946,32,20.4],[.947,-31,17.8],[.949,51,18.1],[.903,-30,17.6],[.909,43,18.3],[.915,-1,17.8],[.921,-48,18.0],[.927,-21,17.5],[.933,18,21.3],[.939,-12,17.9],[.945,-46,18.4],[.950,24,17.7],[.906,-8,18.2],[.912,36,17.5],[.918,-36,18.6],[.924,48,17.7],[.930,12,18.0],[.936,-3,17.6],[.942,37,18.3],[.948,-18,17.4],
[.951,-42,17.6],[.952,-16,18.2],[.954,12,17.8],[.955,39,18.5],[.957,-22,17.5],[.958,6,18.0],[.960,31,17.7],[.961,50,18.3],[.963,-4,17.4],[.964,-33,18.6],[.966,22,17.9],[.967,46,18.1],[.969,-18,17.6],[.970,2,18.8],[.972,36,17.5],[.973,-45,18.2],[.975,11,17.7],[.976,-9,18.4],[.978,27,17.6],[.979,48,18.0],[.981,-27,17.4],[.982,-1,18.5],[.984,40,17.8],[.985,-15,18.2],[.987,18,17.5],[.988,-38,20.1],[.990,44,17.7],[.991,-24,18.3],[.993,9,17.6],[.994,-6,18.0],[.996,33,17.4],[.997,-30,18.7],[.999,52,17.8],[.953,-29,18.0],[.959,42,17.5],[.965,0,21.2],[.971,-47,17.7],[.977,-20,18.4],[.983,19,17.6],[.989,-11,18.1],[.995,-46,17.5],[1.0,25,18.3],[.956,-7,17.9],[.962,35,18.4],[.968,-35,17.6],[.974,49,18.0],[.980,13,17.5],[.986,-2,22.0],[.992,38,17.9],[.998,-17,18.2],
[1.001,-40,17.7],[1.002,-14,18.1],[1.004,13,17.5],[1.005,40,18.4],[1.007,-21,17.8],[1.008,7,18.2],[1.010,32,17.6],[1.011,51,18.0],[1.013,-3,17.4],[1.014,-32,18.5],[1.016,23,17.7],[1.017,47,18.3],[1.019,-17,17.5],[1.020,3,18.9],[1.022,37,17.6],[1.023,-44,18.1],[1.025,12,17.8],[1.026,-8,18.4],[1.028,28,17.5],[1.029,49,18.0],[1.031,-26,17.7],[1.032,0,18.3],[1.034,41,17.4],[1.035,-14,18.6],[1.037,19,17.8],[1.038,-37,18.1],[1.040,45,17.5],[1.041,-23,18.2],[1.043,10,17.7],[1.044,-5,20.3],[1.046,34,17.6],[1.047,-29,18.0],[1.049,52,17.4],[1.003,-28,18.3],[1.009,44,17.6],[1.015,1,18.0],[1.021,-46,17.8],[1.027,-19,18.4],[1.033,20,21.5],[1.039,-10,17.5],[1.045,-47,18.1],[1.050,26,17.7],[1.006,-6,18.2],[1.012,36,17.5],[1.018,-34,18.6],[1.024,48,17.8],[1.030,14,18.0],[1.036,-1,17.6],[1.042,39,18.3],[1.048,-16,17.4],
[1.051,-41,17.6],[1.052,-13,18.2],[1.054,14,17.4],[1.055,41,18.0],[1.057,-20,17.8],[1.058,8,18.5],[1.060,33,17.5],[1.061,50,18.1],[1.063,-2,17.7],[1.064,-31,18.3],[1.066,24,17.6],[1.067,46,18.0],[1.069,-16,17.4],[1.070,4,18.7],[1.072,38,17.8],[1.073,-43,18.2],[1.075,13,17.5],[1.076,-7,18.4],[1.078,29,17.7],[1.079,48,18.0],[1.081,-25,17.5],[1.082,1,18.3],[1.084,42,17.6],[1.085,-13,18.8],[1.087,20,17.4],[1.088,-36,18.1],[1.090,46,17.7],[1.091,-22,18.2],[1.093,11,17.5],[1.094,-4,18.0],[1.096,35,17.8],[1.097,-28,20.5],[1.099,51,17.6],[1.053,-27,18.1],[1.059,45,17.5],[1.065,2,18.3],[1.071,-45,17.8],[1.077,-18,18.0],[1.083,21,17.4],[1.089,-9,21.0],[1.095,-46,17.7],[1.100,27,18.2],[1.056,-5,17.6],[1.062,37,18.4],[1.068,-33,17.8],[1.074,49,18.0],[1.080,15,17.5],[1.086,0,18.1],[1.092,40,17.4],[1.098,-15,18.6],
[1.101,-39,17.8],[1.102,-12,18.3],[1.104,15,17.5],[1.105,42,18.1],[1.107,-19,17.7],[1.108,9,18.4],[1.110,34,17.6],[1.111,51,18.0],[1.113,-1,17.4],[1.114,-30,18.6],[1.116,25,17.8],[1.117,47,18.2],[1.119,-15,17.5],[1.120,5,18.0],[1.122,39,17.7],[1.123,-42,18.3],[1.125,14,17.4],[1.126,-6,18.5],[1.128,30,17.8],[1.129,49,18.0],[1.131,-24,17.6],[1.132,2,18.2],[1.134,43,17.5],[1.135,-12,18.7],[1.137,21,17.9],[1.138,-35,18.1],[1.140,46,17.4],[1.141,-21,18.3],[1.143,12,17.7],[1.144,-3,20.0],[1.146,36,17.5],[1.147,-27,18.2],[1.149,52,17.8],[1.103,-26,18.0],[1.109,45,17.5],[1.115,3,18.4],[1.121,-44,17.7],[1.127,-17,18.1],[1.133,22,20.9],[1.139,-8,17.6],[1.145,-45,18.2],[1.150,28,17.5],[1.106,-4,18.0],[1.112,38,17.6],[1.118,-32,18.3],[1.124,50,17.7],[1.130,16,18.0],[1.136,1,17.4],[1.142,41,18.5],[1.148,-14,17.8],
[1.151,-40,17.5],[1.152,-11,18.2],[1.154,16,17.7],[1.155,43,18.0],[1.157,-18,17.6],[1.158,10,18.4],[1.160,35,17.5],[1.161,51,18.1],[1.163,0,17.8],[1.164,-29,18.3],[1.166,26,17.4],[1.167,47,18.0],[1.169,-14,17.7],[1.170,6,18.6],[1.172,40,17.5],[1.173,-41,18.2],[1.175,15,17.8],[1.176,-5,18.0],[1.178,31,17.4],[1.179,48,18.5],[1.181,-23,17.6],[1.182,3,18.1],[1.184,44,17.7],[1.185,-11,18.4],[1.187,22,17.5],[1.188,-34,18.0],[1.190,46,17.8],[1.191,-20,18.2],[1.193,13,17.5],[1.194,-2,20.2],[1.196,37,17.7],[1.197,-26,18.0],[1.199,52,17.4],[1.153,-25,18.3],[1.159,44,17.6],[1.165,4,18.0],[1.171,-43,17.5],[1.177,-16,18.2],[1.183,23,21.2],[1.189,-7,17.8],[1.195,-44,18.1],[1.200,29,17.6],[1.156,-3,18.4],[1.162,39,17.5],[1.168,-31,18.0],[1.174,50,17.7],[1.180,17,18.3],[1.186,2,17.6],[1.192,42,18.1],[1.198,-13,17.5],
[1.201,-38,17.7],[1.202,-10,18.1],[1.204,17,17.5],[1.205,44,18.3],[1.207,-17,17.8],[1.208,11,18.0],[1.210,36,17.6],[1.211,50,18.4],[1.213,1,17.5],[1.214,-28,18.2],[1.216,27,17.7],[1.217,48,18.0],[1.219,-13,17.4],[1.220,7,18.5],[1.222,41,17.8],[1.223,-40,18.1],[1.225,16,17.5],[1.226,-4,18.3],[1.228,32,17.7],[1.229,49,18.0],[1.231,-22,17.4],[1.232,4,18.6],[1.234,45,17.6],[1.235,-10,18.0],[1.237,23,17.8],[1.238,-33,18.2],[1.240,46,17.5],[1.241,-19,18.4],[1.243,14,17.7],[1.244,-1,18.0],[1.246,38,17.5],[1.247,-25,20.1],[1.249,52,17.8],[1.203,-24,18.0],[1.209,43,17.6],[1.215,5,18.3],[1.221,-42,17.7],[1.227,-15,18.0],[1.233,24,21.0],[1.239,-6,17.5],[1.245,-43,18.1],[1.250,30,17.8],
[1.251,-37,17.6],[1.253,-9,18.2],[1.254,18,17.5],[1.256,45,18.0],[1.258,-16,17.8],[1.259,12,18.4],[1.261,37,17.6],[1.263,51,18.1],[1.264,2,17.4],[1.266,-27,18.3],[1.268,28,17.7],[1.269,48,18.0],[1.271,-12,17.5],[1.273,8,18.6],[1.274,42,17.8],[1.276,-39,18.1],[1.278,17,17.4],[1.279,-3,18.2],[1.281,33,17.7],[1.283,49,18.0],[1.284,-21,17.5],[1.286,5,18.4],[1.288,46,17.6],[1.289,-9,18.1],[1.291,24,17.8],[1.293,-32,18.3],[1.294,47,17.5],[1.296,-18,18.0],[1.298,15,17.7],[1.299,0,20.4],[1.257,-45,17.9],[1.267,20,21.3],[1.277,-24,18.0],[1.287,39,17.6],[1.297,-41,18.2],[1.262,-5,17.5],[1.272,34,18.3],[1.282,-14,17.7],[1.292,52,18.0],
[1.301,-36,17.7],[1.303,-8,18.3],[1.305,19,17.5],[1.307,46,18.0],[1.309,-15,17.8],[1.311,13,18.4],[1.313,38,17.6],[1.315,51,18.2],[1.317,3,17.4],[1.319,-26,18.3],[1.321,29,17.7],[1.323,-11,18.0],[1.325,9,17.5],[1.327,43,18.6],[1.329,-38,17.8],[1.331,18,18.1],[1.333,-2,17.4],[1.335,34,18.2],[1.337,-20,17.7],[1.339,6,18.0],[1.341,47,17.5],[1.343,-8,18.4],[1.345,25,17.6],[1.347,-31,18.1],[1.349,48,17.8],[1.304,-44,18.0],[1.314,24,21.1],[1.324,-23,17.6],[1.334,52,18.3],[1.344,-40,17.5],[1.310,-1,18.0],[1.328,40,17.7],
[1.351,-35,17.6],[1.353,-7,18.2],[1.356,20,17.5],[1.358,47,18.0],[1.360,-14,17.8],[1.362,14,18.5],[1.364,39,17.6],[1.367,4,18.1],[1.369,-25,17.4],[1.371,30,18.3],[1.373,-10,17.7],[1.375,10,18.0],[1.378,44,17.5],[1.380,-37,18.4],[1.382,19,17.6],[1.384,-1,18.1],[1.386,35,17.8],[1.389,-19,18.2],[1.391,7,17.5],[1.393,49,18.0],[1.395,-6,17.7],[1.397,26,18.3],[1.399,-30,17.4],[1.366,-43,18.0],[1.377,-28,21.5],[1.388,51,17.7],[1.357,-22,17.9],
[1.401,-33,17.7],[1.404,-5,18.1],[1.406,21,17.5],[1.409,46,18.3],[1.411,-13,17.8],[1.414,15,18.0],[1.416,40,17.6],[1.419,5,18.4],[1.421,-24,17.5],[1.424,31,18.2],[1.426,-9,17.7],[1.429,11,18.0],[1.431,45,17.4],[1.434,-36,18.5],[1.436,20,17.6],[1.439,0,18.1],[1.441,36,17.8],[1.444,-18,18.2],[1.446,8,17.5],[1.449,50,18.0],[1.413,-41,17.6],[1.428,27,20.9],[1.443,-27,17.8],
[1.451,-30,17.7],[1.454,-4,18.2],[1.456,22,17.5],[1.459,45,18.0],[1.461,-12,17.8],[1.464,16,18.4],[1.466,41,17.6],[1.469,6,18.1],[1.471,-22,17.4],[1.474,32,18.3],[1.476,-8,17.7],[1.479,12,18.0],[1.481,47,17.5],[1.484,-34,18.4],[1.486,21,17.6],[1.489,1,18.1],[1.491,37,17.8],[1.494,-17,18.2],[1.496,9,17.5],[1.499,51,18.0],[1.463,-42,17.9],[1.488,-26,20.7],
[1.502,-28,17.6],[1.505,-3,18.2],[1.508,23,17.5],[1.511,44,18.0],[1.514,-11,17.8],[1.517,17,18.4],[1.520,39,17.6],[1.523,7,18.1],[1.526,-20,17.4],[1.529,33,18.3],[1.532,-7,17.7],[1.535,13,18.0],[1.538,48,17.5],[1.541,-32,18.4],[1.544,22,17.6],[1.547,2,18.1],[1.549,36,17.8],[1.516,-40,18.0],[1.531,27,20.6],[1.546,-16,17.7],
[1.551,-26,17.7],[1.554,-2,18.2],[1.557,24,17.5],[1.560,43,18.0],[1.563,-10,17.8],[1.566,18,18.4],[1.569,38,17.6],[1.572,8,18.1],[1.575,-18,17.4],[1.578,34,18.3],[1.581,-6,17.7],[1.584,14,18.0],[1.587,46,17.5],[1.590,-30,18.4],[1.593,23,17.6],[1.596,3,18.1],[1.598,-40,17.8],[1.585,-35,20.5],[1.592,49,17.9],
[.502,-20,18.7],[.505,-37,20.4],[.507,6,19.1],[.510,-26,18.5],[.513,-11,21.3],[.515,-33,19.6],[.518,-1,18.9],[.521,-17,20.2],[.523,4,19.4],[.526,-39,18.6],[.528,-23,20.8],[.531,-8,19.0],[.533,10,21.9],[.536,-30,18.8],[.538,-3,20.0],[.541,-14,19.3],[.543,-42,18.7],[.546,-25,20.5],[.548,7,19.2],[.550,-34,21.0],
[.551,-2,18.8],[.553,-36,20.3],[.555,14,19.2],[.557,-21,18.6],[.559,-45,21.0],[.561,7,19.5],[.563,-12,18.9],[.565,-29,20.6],[.567,24,19.3],[.569,-40,18.7],[.571,0,21.8],[.573,-18,19.1],[.575,30,18.5],[.577,-33,20.2],[.579,12,19.4],[.581,-7,18.8],[.583,40,20.7],[.585,-46,19.0],[.587,20,18.6],[.589,-26,21.2],[.593,44,19.6],[.597,-14,18.9],
[.601,44,19.0],[.603,17,20.4],[.605,-10,18.7],[.607,-38,21.1],[.609,3,19.4],[.611,29,18.8],[.613,-23,20.6],[.615,-46,19.2],[.617,10,18.6],[.619,40,21.5],[.621,-6,19.0],[.623,-31,18.5],[.625,22,20.2],[.627,-16,19.6],[.629,48,18.9],[.631,-41,20.9],[.633,6,19.1],[.635,34,18.7],[.637,-27,20.3],[.639,-3,19.5],[.641,18,18.6],[.643,-35,21.4],[.645,43,19.2],[.647,-20,18.8],[.649,-44,20.1],[.616,-1,22.6],[.636,52,19.3],
[.651,46,19.2],[.653,19,20.5],[.655,-8,18.8],[.657,-36,20.9],[.659,5,19.3],[.661,31,18.6],[.663,-21,20.2],[.665,-45,19.5],[.667,12,18.9],[.669,38,21.6],[.671,-4,19.1],[.673,-29,18.7],[.675,25,20.4],[.677,-17,19.4],[.679,50,18.8],[.681,-40,20.7],[.683,8,19.0],[.685,30,18.6],[.687,-27,20.1],[.689,-10,19.6],[.691,20,18.5],[.693,-34,21.3],[.695,44,19.2],[.697,-14,18.9],[.699,-43,20.0],[.666,-1,22.8],[.686,48,19.3],
[.701,47,19.0],[.703,20,20.3],[.705,-7,18.7],[.707,-35,20.8],[.709,6,19.2],[.711,32,18.5],[.713,-20,20.0],[.715,-44,19.4],[.717,13,18.8],[.719,39,21.3],[.721,-3,19.0],[.723,-28,18.6],[.725,26,20.2],[.727,-16,19.3],[.729,51,18.7],[.731,-39,20.6],[.733,9,18.9],[.735,28,18.5],[.737,-25,20.0],[.739,-9,19.5],[.741,17,18.6],[.743,-33,21.0],[.745,42,19.1],[.747,-12,18.8],[.749,-42,19.9],[.716,0,22.4],[.736,50,19.2],
[.751,45,18.8],[.753,18,19.9],[.755,-6,18.5],[.757,-34,20.4],[.759,7,19.0],[.761,30,18.4],[.763,-19,19.7],[.765,-43,19.1],[.767,14,18.6],[.769,40,20.9],[.771,-2,18.8],[.773,-27,18.4],[.775,27,19.8],[.777,-15,19.2],[.779,52,18.5],[.781,-38,20.2],[.783,10,18.7],[.785,29,18.3],[.787,-24,19.6],[.789,-8,19.3],[.791,19,18.5],[.793,-32,20.6],[.795,43,18.9],[.797,-11,18.6],[.799,-41,19.5],[.766,1,22.2],[.786,49,19.0],
[.801,46,17.8],[.803,19,18.6],[.805,-5,17.5],[.807,-33,18.9],[.809,8,17.7],[.811,31,17.4],[.813,-18,18.4],[.815,-42,17.9],[.817,15,17.6],[.819,41,20.4],[.821,-1,17.8],[.823,-26,17.4],[.825,28,18.7],[.827,-14,18.1],[.829,52,17.5],[.831,-37,18.9],[.833,11,17.7],[.835,30,17.3],[.837,-23,18.5],[.839,-7,18.2],[.841,20,17.5],[.843,-31,19.6],[.845,44,17.9],[.847,-10,17.6],[.849,-40,18.4],[.826,2,21.5],
[.851,47,17.6],[.853,20,18.5],[.855,-4,17.4],[.857,-32,18.8],[.859,9,17.8],[.861,32,17.3],[.863,-17,18.3],[.865,-41,17.7],[.867,16,17.5],[.869,42,20.1],[.871,0,17.9],[.873,-25,17.3],[.875,29,18.6],[.877,-13,18.0],[.879,51,17.4],[.881,-36,18.8],[.883,12,17.6],[.885,31,17.2],[.887,-22,18.4],[.889,-6,18.1],[.891,21,17.4],[.893,-30,19.4],[.895,45,17.8],[.897,-9,17.5],[.899,-39,18.3],[.876,3,22.1],
[.901,46,17.7],[.903,21,18.4],[.905,-3,17.5],[.907,-31,18.7],[.909,10,17.9],[.911,33,17.4],[.913,-16,18.2],[.915,-40,17.6],[.917,17,17.4],[.919,43,19.9],[.921,1,17.8],[.923,-24,17.2],[.925,30,18.5],[.927,-12,18.1],[.929,50,17.5],[.931,-35,18.7],[.933,13,17.7],[.935,32,17.3],[.937,-21,18.3],[.939,-5,18.0],[.941,22,17.5],[.943,-29,19.2],[.945,44,17.9],[.947,-8,17.4],[.949,-38,18.2],[.926,4,21.0],
[.951,47,17.5],[.953,22,18.3],[.955,-2,17.6],[.957,-30,18.6],[.959,11,17.8],[.961,34,17.3],[.963,-15,18.1],[.965,-39,17.7],[.967,18,17.4],[.969,44,19.7],[.971,2,17.9],[.973,-23,17.3],[.975,31,18.4],[.977,-11,18.0],[.979,51,17.6],[.981,-34,18.8],[.983,14,17.5],[.985,33,17.2],[.987,-20,18.2],[.989,-4,18.0],[.991,23,17.4],[.993,-28,19.0],[.995,45,17.8],[.997,-7,17.5],[.999,-37,18.1],[.976,5,21.8],
[1.001,46,17.6],[1.003,23,18.2],[1.005,-1,17.5],[1.007,-29,18.7],[1.009,12,17.7],[1.011,35,17.4],[1.013,-14,18.3],[1.015,-38,17.8],[1.017,19,17.3],[1.019,45,19.5],[1.021,3,17.9],[1.023,-22,17.4],[1.025,32,18.5],[1.027,-10,18.1],[1.029,50,17.5],[1.031,-33,18.6],[1.033,15,17.6],[1.035,34,17.3],[1.037,-19,18.2],[1.039,-3,17.9],[1.041,24,17.4],[1.043,-27,19.1],[1.045,46,17.8],[1.047,-6,17.6],[1.049,-36,18.3],[1.026,6,20.8],
[1.051,47,17.7],[1.053,24,18.4],[1.055,0,17.4],[1.057,-28,18.8],[1.059,13,17.6],[1.061,36,17.3],[1.063,-13,18.2],[1.065,-37,17.7],[1.067,20,17.5],[1.069,44,19.8],[1.071,4,17.8],[1.073,-21,17.3],[1.075,33,18.4],[1.077,-9,18.0],[1.079,51,17.6],[1.081,-32,18.7],[1.083,16,17.5],[1.085,35,17.2],[1.087,-18,18.3],[1.089,-2,17.9],[1.091,25,17.5],[1.093,-26,19.3],[1.095,45,17.7],[1.097,-5,17.4],[1.099,-35,18.1],[1.076,7,21.4],
[1.101,46,17.5],[1.103,25,18.3],[1.105,1,17.6],[1.107,-27,18.6],[1.109,14,17.8],[1.111,37,17.4],[1.113,-12,18.1],[1.115,-36,17.6],[1.117,21,17.3],[1.119,43,19.6],[1.121,5,17.9],[1.123,-20,17.4],[1.125,34,18.5],[1.127,-8,18.1],[1.129,50,17.5],[1.131,-31,18.8],[1.133,17,17.7],[1.135,36,17.3],[1.137,-17,18.2],[1.139,-1,18.0],[1.141,26,17.4],[1.143,-25,19.0],[1.145,44,17.8],[1.147,-4,17.5],[1.149,-34,18.2],[1.126,8,20.6],
[1.151,47,17.6],[1.153,26,18.2],[1.155,2,17.5],[1.157,-26,18.7],[1.159,15,17.7],[1.161,38,17.3],[1.163,-11,18.3],[1.165,-35,17.8],[1.167,22,17.4],[1.169,44,19.4],[1.171,6,17.9],[1.173,-19,17.3],[1.175,35,18.4],[1.177,-7,18.0],[1.179,51,17.5],[1.181,-30,18.6],[1.183,18,17.6],[1.185,37,17.2],[1.187,-16,18.3],[1.189,0,17.9],[1.191,27,17.5],[1.193,-24,19.2],[1.195,45,17.7],[1.197,-3,17.4],[1.199,-33,18.1],[1.176,9,21.1],
[1.201,46,17.7],[1.203,27,18.3],[1.205,3,17.4],[1.207,-25,18.8],[1.209,16,17.6],[1.211,39,17.4],[1.213,-10,18.2],[1.215,-34,17.7],[1.217,23,17.3],[1.219,43,19.7],[1.221,7,17.8],[1.223,-18,17.4],[1.225,36,18.5],[1.227,-6,18.1],[1.229,50,17.5],[1.231,-29,18.7],[1.233,19,17.6],[1.235,38,17.3],[1.237,-15,18.2],[1.239,1,17.9],[1.241,28,17.4],[1.243,-23,19.1],[1.245,44,17.8],[1.247,-2,17.5],[1.249,-32,18.2],
[1.251,45,17.6],[1.254,22,18.3],[1.257,-2,17.5],[1.260,-27,18.6],[1.263,14,17.7],[1.266,38,17.4],[1.269,-14,18.2],[1.272,-36,17.8],[1.275,27,17.4],[1.278,5,18.5],[1.281,-20,17.6],[1.284,41,18.0],[1.287,-6,17.5],[1.290,20,18.4],[1.293,-30,17.7],[1.296,34,18.1],[1.299,-11,17.5],[1.270,48,19.8],
[1.302,44,17.7],[1.306,20,18.2],[1.309,-4,17.5],[1.313,-29,18.5],[1.317,15,17.6],[1.320,36,17.4],[1.324,-16,18.3],[1.328,8,17.8],[1.331,-34,18.0],[1.335,28,17.5],[1.339,-8,18.6],[1.342,49,17.7],[1.346,12,18.2],[1.349,-22,17.4],
[1.352,42,17.6],[1.356,-2,18.3],[1.359,26,17.5],[1.363,-31,18.4],[1.367,10,17.7],[1.371,-17,18.1],[1.375,33,17.4],[1.379,3,18.6],[1.383,-24,17.8],[1.387,23,18.2],[1.392,-12,17.5],[1.396,41,18.0],
[1.403,40,17.7],[1.407,-20,18.2],[1.412,28,17.5],[1.417,-1,18.4],[1.421,-30,17.6],[1.426,16,18.1],[1.431,-14,17.4],[1.436,43,18.3],[1.441,-5,17.8],[1.446,25,18.0],
[1.453,34,17.6],[1.458,-15,18.2],[1.463,11,17.5],[1.469,-28,18.4],[1.474,44,17.7],[1.480,-3,18.1],[1.486,28,17.4],[1.493,-20,18.3],
[1.504,30,17.7],[1.510,-18,18.2],[1.516,8,17.5],[1.523,-33,18.4],[1.530,42,17.6],[1.537,-4,18.1],[1.543,16,17.4],
[1.553,29,17.6],[1.559,-14,18.2],[1.565,40,17.5],[1.571,-25,18.3],[1.579,10,17.7],[1.589,-6,18.1]
];

// Parula-like colour ramp for SNR
const parula = ['#3e26a8','#4747eb','#3f6ffd','#2796eb','#13acd4','#1fbab0','#46c68d','#8ecb57','#d0bf3e','#fbc53a','#f9fb0e'];

const FONT = '"Liberation Sans", Arial, Helvetica, sans-serif';
const TEXT = '#262626';
const AXIS = '#8f8f8f';
const GRIDLINE = '#e8e8e8';

const plotTop = 13.5, plotHeight = 287.5;
const panels = [
  { left: 93,    barLeft: 494 },
  { left: 664.3, barLeft: 1066 }
];
const plotWidth = 380;
const barWidth = 11.7;
const dotSize = 6;

function xAxisFor(i) {
  return {
    type: 'value', gridIndex: i, min: xRange[0], max: xRange[1], interval: 0.5,
    name: 'P70 Width [CA chips]', nameLocation: 'middle', nameGap: 41,
    nameTextStyle: { fontFamily: FONT, fontSize: 24.5, color: TEXT },
    axisLine: { show: true, onZero: false, lineStyle: { color: AXIS, width: 1 } },
    axisTick: { show: true, inside: true, length: 5, customValues: xTickValues, lineStyle: { color: AXIS } },
    axisLabel: { customValues: xTickValues, fontFamily: FONT, fontSize: 22, color: TEXT, margin: 9,
                 formatter: v => String(v) },
    splitLine: { show: true, showMaxLine: false, lineStyle: { color: GRIDLINE, width: 1 } }
  };
}
function yAxisFor(i) {
  return {
    type: 'value', gridIndex: i, min: yRange[0], max: yRange[1], interval: 50,
    name: 'Delay Anomaly [m]', nameLocation: 'middle', nameGap: 57, nameRotate: 90,
    nameTextStyle: { fontFamily: FONT, fontSize: 24.5, color: TEXT },
    axisLine: { show: true, onZero: false, lineStyle: { color: AXIS, width: 1 } },
    axisTick: { show: true, inside: true, length: 5, lineStyle: { color: AXIS } },
    axisLabel: { fontFamily: FONT, fontSize: 22, color: TEXT, margin: 7 },
    splitLine: { show: true, lineStyle: { color: GRIDLINE, width: 1 } }
  };
}
function barXAxis(i) {
  return { type: 'value', gridIndex: i, min: 0, max: 1, show: false };
}
function barYAxis(i) {
  return {
    type: 'value', gridIndex: i, position: 'right', min: snrRange[0], max: snrRange[1],
    name: 'SNR [dB]', nameLocation: 'middle', nameGap: 33, nameRotate: 90,
    nameTextStyle: { fontFamily: FONT, fontSize: 22, color: TEXT },
    axisLine: { show: false },
    axisTick: { show: true, inside: true, length: 3, customValues: snrTickValues, lineStyle: { color: '#555' } },
    axisLabel: { customValues: snrTickValues, fontFamily: FONT, fontSize: 22, color: TEXT, margin: 6 },
    splitLine: { show: false }
  };
}
function colorBar(seriesIndex, left) {
  return {
    type: 'continuous', seriesIndex, dimension: 2,
    min: snrRange[0], max: snrRange[1],
    inRange: { color: parula },
    orient: 'vertical', left, top: plotTop,
    itemWidth: barWidth, itemHeight: plotHeight,
    padding: 0, calculable: false, hoverLink: false, text: null, showLabel: false
  };
}

const chart = echarts.init(document.getElementById('chart'));
chart.setOption({
  animation: false,
  backgroundColor: '#ffffff',
  grid: [
    { left: panels[0].left, top: plotTop, width: plotWidth, height: plotHeight },
    { left: panels[1].left, top: plotTop, width: plotWidth, height: plotHeight },
    { left: panels[0].barLeft, top: plotTop, width: barWidth, height: plotHeight,
      show: true, borderColor: '#9a9a9a', borderWidth: 1, backgroundColor: 'transparent' },
    { left: panels[1].barLeft, top: plotTop, width: barWidth, height: plotHeight,
      show: true, borderColor: '#9a9a9a', borderWidth: 1, backgroundColor: 'transparent' }
  ],
  xAxis: [xAxisFor(0), xAxisFor(1), barXAxis(2), barXAxis(3)],
  yAxis: [yAxisFor(0), yAxisFor(1), barYAxis(2), barYAxis(3)],
  visualMap: [colorBar(0, panels[0].barLeft), colorBar(1, panels[1].barLeft)],
  legend: {
    data: [
      { name: 'Data', icon: 'circle' },
      { name: 'Linear Calibration', icon: 'path://M0,0 L19,0 L19,2.2 L0,2.2 Z' }
    ],
    orient: 'vertical', left: 273, top: 19.3,
    padding: [3, 6, 2, 4], itemGap: 3, itemWidth: 19, itemHeight: 4,
    backgroundColor: '#ffffff', borderColor: '#a0a0a0', borderWidth: 1,
    selectedMode: false,
    textStyle: { fontFamily: FONT, fontSize: 20.5, color: '#000000', lineHeight: 22 }
  },
  series: [
    {
      type: 'scatter', name: 'Data', xAxisIndex: 0, yAxisIndex: 0,
      data: pointsA, symbol: 'circle', symbolSize: dotSize,
      itemStyle: { color: '#3e26a8' }, z: 2
    },
    {
      type: 'scatter', name: 'Data', xAxisIndex: 1, yAxisIndex: 1,
      data: pointsB, symbol: 'circle', symbolSize: dotSize,
      itemStyle: { color: '#3e26a8' }, z: 2
    },
    {
      type: 'line', name: 'Linear Calibration', xAxisIndex: 0, yAxisIndex: 0,
      data: calibX.map((x, i) => [x, calibY[i]]),
      symbol: 'none', lineStyle: { color: '#d95319', width: 2.5 },
      itemStyle: { color: '#d95319' }, z: 5
    }
  ],
  graphic: [
    { type: 'text', x: 272, y: 398,
      style: { text: '(a)', fontFamily: '"Liberation Serif", "DejaVu Serif", serif', fontSize: 21,
               fill: '#000', align: 'center', verticalAlign: 'middle',
               textAlign: 'center', textVerticalAlign: 'middle' } },
    { type: 'text', x: 851, y: 398,
      style: { text: '(b)', fontFamily: '"Liberation Serif", "DejaVu Serif", serif', fontSize: 21,
               fill: '#000', align: 'center', verticalAlign: 'middle',
               textAlign: 'center', textVerticalAlign: 'middle' } }
  ]
});
</script>
</body>
</html>
